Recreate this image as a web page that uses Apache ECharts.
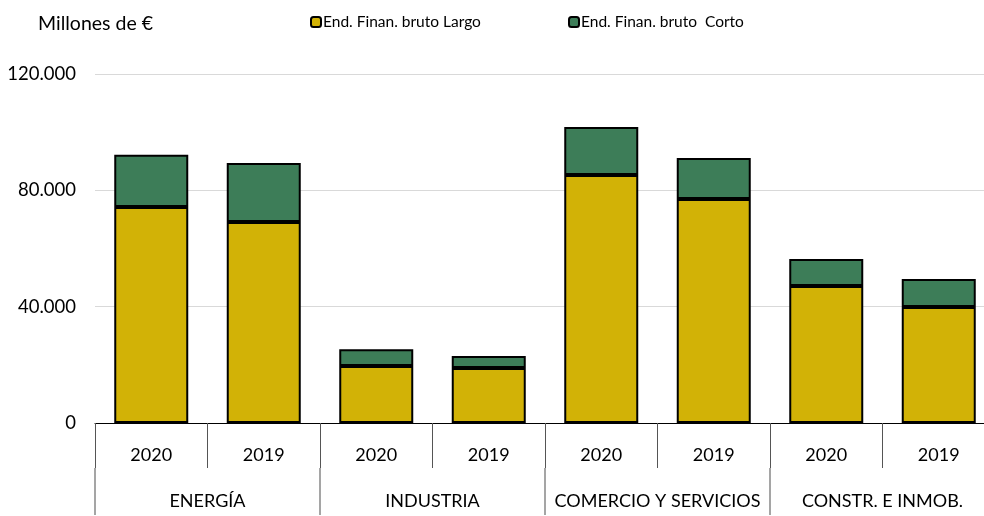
<!DOCTYPE html>
<html>
<head>
<meta charset="utf-8">
<script src="https://cdn.jsdelivr.net/npm/echarts@6/dist/echarts.min.js"></script>
<style>
html,body{margin:0;padding:0;background:#fff;overflow:hidden;width:984px;height:516px;}
#chart{width:996px;height:516px;}
</style>
</head>
<body>
<div id="chart"></div>
<script>
const years = ['2020','2019','2020','2019','2020','2019','2020','2019'];
const groups = ['ENERGÍA','INDUSTRIA','COMERCIO Y SERVICIOS','CONSTR. E INMOB.'];
const largo = [74300, 69100, 19600, 18900, 85300, 77000, 47100, 39900];
const corto = [17900, 20300, 5800, 4100, 16500, 14100, 9300, 9600];
const yTicks = [0, 40000, 80000, 120000];
const seriesNames = ['End. Finan. bruto Largo', 'End. Finan. bruto  Corto'];

const FONT = 'Lato';
const chart = echarts.init(document.getElementById('chart'));
function fmt(v){ return String(v).replace(/\B(?=(\d{3})+(?!\d))/g, '.'); }

chart.setOption({
  animation: false,
  textStyle: { fontFamily: FONT },
  title: {
    text: 'Millones de €', left: 33, top: 9,
    textStyle: { fontFamily: FONT, fontSize: 19.5, fontWeight: 'normal', color: '#000' }
  },
  legend: [
    { data: [seriesNames[0]], left: 305, top: 9, itemWidth: 10, itemHeight: 10, itemGap: 4,
      textStyle: { fontFamily: FONT, fontSize: 15.5, color: '#000', padding: [0,0,0,-3] } },
    { data: [seriesNames[1]], left: 563, top: 9, itemWidth: 10, itemHeight: 10, itemGap: 4,
      textStyle: { fontFamily: FONT, fontSize: 15.5, color: '#000', padding: [0,0,0,-3] } }
  ],
  grid: { left: 95, top: 74, width: 900, height: 349, containLabel: false },
  xAxis: [
    {
      type: 'category', data: years, position: 'bottom',
      axisLine: { show: true, lineStyle: { color: '#000', width: 1 } },
      axisTick: { show: true, interval: 0, length: 45, lineStyle: { color: '#555', width: 1 } },
      axisLabel: { interval: 0, margin: 23, fontFamily: FONT, fontSize: 18, color: '#000' }
    },
    {
      type: 'category', data: groups, position: 'bottom', offset: 45,
      axisLine: { show: false },
      axisTick: { show: true, interval: 0, length: 47, lineStyle: { color: '#888', width: 1.5 } },
      axisLabel: { interval: 0, margin: 24, fontFamily: FONT, fontSize: 18, color: '#000' }
    }
  ],
  yAxis: {
    type: 'value', min: 0, max: 120000, interval: 40000,
    axisLine: { show: false }, axisTick: { show: false },
    splitLine: { show: true, lineStyle: { color: '#d9d9d9', width: 1 } },
    axisLabel: { margin: 19, fontFamily: FONT, fontSize: 18.5, color: '#000', formatter: v => fmt(v) }
  },
  series: [
    { name: seriesNames[0], type: 'bar', stack: 't', data: largo, barWidth: 74,
      itemStyle: { color: '#D2B206', borderColor: '#000', borderWidth: 2 } },
    { name: seriesNames[1], type: 'bar', stack: 't', data: corto, barWidth: 74,
      itemStyle: { color: '#3D7D58', borderColor: '#000', borderWidth: 2 } }
  ]
});
</script>
</body>
</html>
